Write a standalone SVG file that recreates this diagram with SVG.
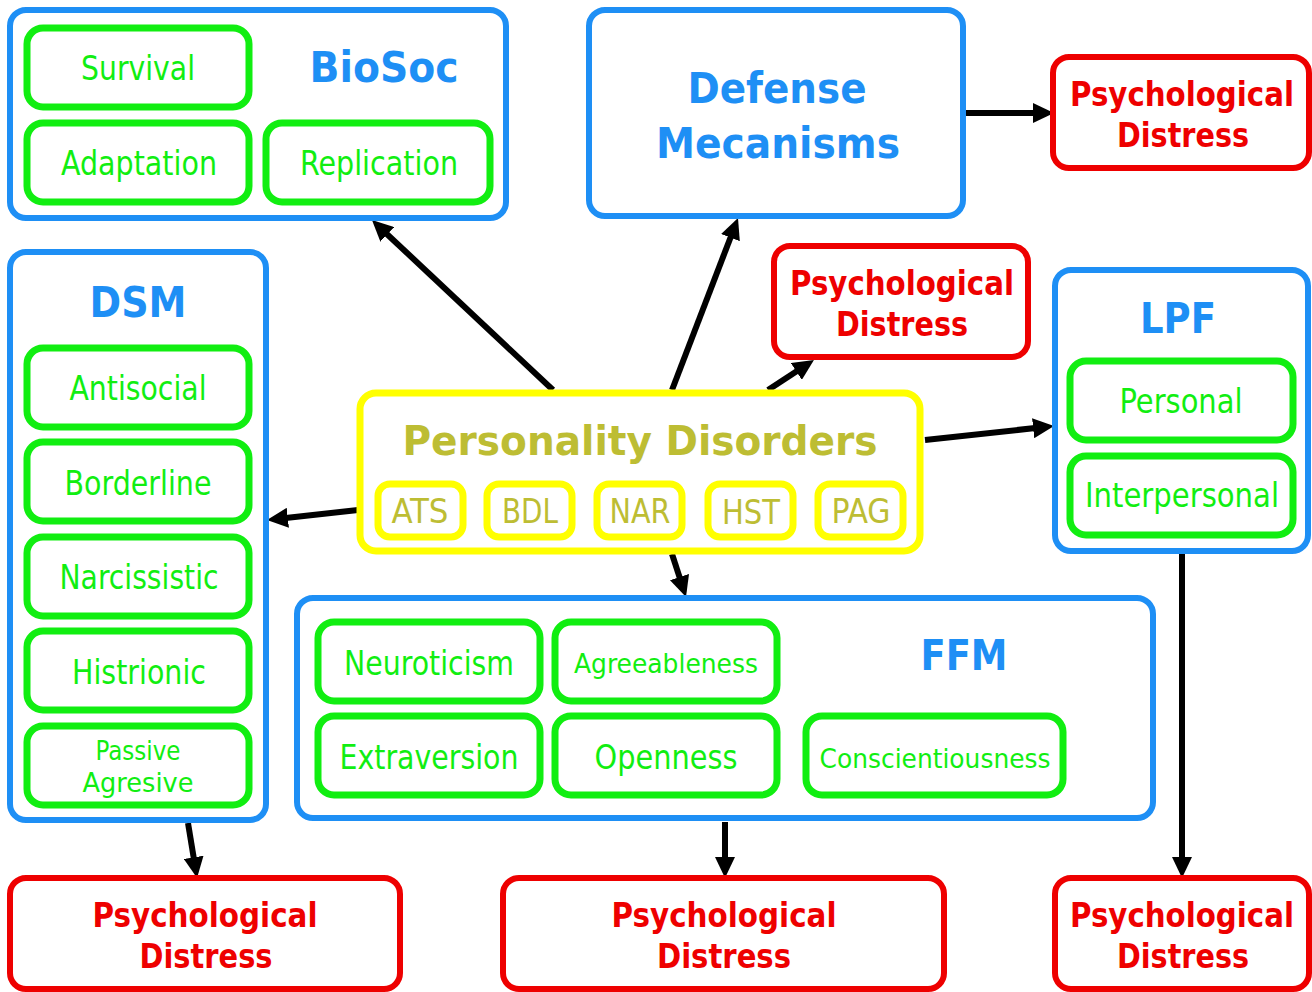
<svg xmlns="http://www.w3.org/2000/svg" width="1312" height="992" viewBox="0 0 1312 992">
<style>
text{font-family:"DejaVu Sans Condensed","DejaVu Sans",Tahoma,sans-serif;text-anchor:middle}
.blue{fill:#fff;stroke:#1E8FF5;stroke-width:6}
.green{fill:#fff;stroke:#11EE11;stroke-width:7}
.red{fill:#fff;stroke:#EE0000;stroke-width:6}
.yellow{fill:#fff;stroke:#FFFF00;stroke-width:7}
.bt{fill:#1E8FF5;font-weight:bold;font-size:42px}
.gt{fill:#11EE11;font-size:33px}
.gs{fill:#11EE11;font-size:27px}
.rt{fill:#EE0000;font-weight:bold;font-size:33px}
.yt{fill:#BDBD33;font-size:33px}
.yb{fill:#BDBD33;font-weight:bold;font-size:41px}
.arr{stroke:#000;stroke-width:6;fill:none;marker-end:url(#ah)}
</style>
<defs>
<marker id="ah" markerUnits="userSpaceOnUse" markerWidth="21" markerHeight="20" refX="9" refY="10" orient="auto">
<path d="M0,0 L21,10 L0,20 Z" fill="#000"/>
</marker>
</defs>
<rect width="1312" height="992" fill="#fff"/>

<g id="connectors">
<line class="arr" x1="553" y1="390" x2="380.7" y2="228.2"/>
<line class="arr" x1="672" y1="390" x2="733.7" y2="229.2"/>
<line class="arr" x1="768" y1="390" x2="803.9" y2="366.6"/>
<line class="arr" x1="925" y1="440" x2="1042.1" y2="427.3"/>
<line class="arr" x1="358" y1="510" x2="278.9" y2="518.7"/>
<line class="arr" x1="672" y1="554" x2="682.3" y2="585.6"/>
<line class="arr" x1="965" y1="113" x2="1042" y2="113"/>
<line class="arr" x1="188" y1="823" x2="195.1" y2="866.2"/>
<line class="arr" x1="725" y1="822" x2="725" y2="866"/>
<line class="arr" x1="1182" y1="554" x2="1182" y2="866"/>
</g>

<g id="biosoc">
<rect class="blue" x="10" y="10" width="496" height="208" rx="16"/>
<text class="bt" x="384" y="82" textLength="149" lengthAdjust="spacingAndGlyphs">BioSoc</text>
<rect class="green" x="27" y="28" width="222" height="79" rx="16"/>
<text class="gt" x="138" y="80" textLength="114" lengthAdjust="spacingAndGlyphs">Survival</text>
<rect class="green" x="27" y="123" width="222" height="79" rx="16"/>
<text class="gt" x="139" y="175" textLength="156" lengthAdjust="spacingAndGlyphs">Adaptation</text>
<rect class="green" x="266" y="123" width="224" height="79" rx="16"/>
<text class="gt" x="379" y="175" textLength="158" lengthAdjust="spacingAndGlyphs">Replication</text>
</g>

<g id="defense">
<rect class="blue" x="589" y="10" width="374" height="206" rx="16"/>
<text class="bt" x="777" y="103" textLength="179" lengthAdjust="spacingAndGlyphs">Defense</text>
<text class="bt" x="778" y="158" textLength="244" lengthAdjust="spacingAndGlyphs">Mecanisms</text>
</g>

<g id="distress-top">
<rect class="red" x="1053" y="57" width="256" height="111" rx="16"/>
<text class="rt" x="1182" y="106" textLength="224" lengthAdjust="spacingAndGlyphs">Psychological</text>
<text class="rt" x="1183" y="147" textLength="132" lengthAdjust="spacingAndGlyphs">Distress</text>
</g>

<g id="distress-mid">
<rect class="red" x="774" y="246" width="254" height="111" rx="16"/>
<text class="rt" x="902" y="295" textLength="224" lengthAdjust="spacingAndGlyphs">Psychological</text>
<text class="rt" x="902" y="336" textLength="132" lengthAdjust="spacingAndGlyphs">Distress</text>
</g>

<g id="dsm">
<rect class="blue" x="10" y="252" width="256" height="568" rx="16"/>
<text class="bt" x="138" y="317" textLength="97" lengthAdjust="spacingAndGlyphs">DSM</text>
<rect class="green" x="27" y="348" width="222" height="79" rx="16"/>
<text class="gt" x="138" y="400" textLength="137" lengthAdjust="spacingAndGlyphs">Antisocial</text>
<rect class="green" x="27" y="442" width="222" height="79" rx="16"/>
<text class="gt" x="138" y="495" textLength="147" lengthAdjust="spacingAndGlyphs">Borderline</text>
<rect class="green" x="27" y="537" width="222" height="79" rx="16"/>
<text class="gt" x="139" y="589" textLength="159" lengthAdjust="spacingAndGlyphs">Narcissistic</text>
<rect class="green" x="27" y="631" width="222" height="79" rx="16"/>
<text class="gt" x="139" y="684" textLength="134" lengthAdjust="spacingAndGlyphs">Histrionic</text>
<rect class="green" x="27" y="726" width="222" height="79" rx="16"/>
<text class="gs" x="138" y="760" textLength="85" lengthAdjust="spacingAndGlyphs">Passive</text>
<text class="gs" x="138" y="792" textLength="111" lengthAdjust="spacingAndGlyphs">Agresive</text>
</g>

<g id="lpf">
<rect class="blue" x="1055" y="270" width="253" height="281" rx="16"/>
<text class="bt" x="1178" y="333" textLength="76" lengthAdjust="spacingAndGlyphs">LPF</text>
<rect class="green" x="1070" y="361" width="223" height="79" rx="16"/>
<text class="gt" x="1181" y="413" textLength="123" lengthAdjust="spacingAndGlyphs">Personal</text>
<rect class="green" x="1070" y="456" width="223" height="79" rx="16"/>
<text class="gt" x="1182" y="507" textLength="194" lengthAdjust="spacingAndGlyphs">Interpersonal</text>
</g>

<g id="personality-disorders">
<rect class="yellow" x="360" y="393" width="560" height="158" rx="16"/>
<text class="yb" x="640" y="455" textLength="475" lengthAdjust="spacingAndGlyphs">Personality Disorders</text>
<rect class="yellow" x="378" y="484" width="85" height="53" rx="12"/>
<text class="yt" x="420" y="523" textLength="57" lengthAdjust="spacingAndGlyphs">ATS</text>
<rect class="yellow" x="487" y="484" width="85" height="53" rx="12"/>
<text class="yt" x="530" y="523" textLength="56" lengthAdjust="spacingAndGlyphs">BDL</text>
<rect class="yellow" x="597" y="484" width="85" height="53" rx="12"/>
<text class="yt" x="640" y="523" textLength="61" lengthAdjust="spacingAndGlyphs">NAR</text>
<rect class="yellow" x="708" y="484" width="85" height="53" rx="12"/>
<text class="yt" x="751" y="524" textLength="58" lengthAdjust="spacingAndGlyphs">HST</text>
<rect class="yellow" x="818" y="484" width="85" height="53" rx="12"/>
<text class="yt" x="861" y="523" textLength="59" lengthAdjust="spacingAndGlyphs">PAG</text>
</g>

<g id="ffm">
<rect class="blue" x="297" y="598" width="856" height="220" rx="16"/>
<text class="bt" x="964" y="670" textLength="87" lengthAdjust="spacingAndGlyphs">FFM</text>
<rect class="green" x="318" y="622" width="222" height="79" rx="16"/>
<text class="gt" x="429" y="675" textLength="170" lengthAdjust="spacingAndGlyphs">Neuroticism</text>
<rect class="green" x="555" y="622" width="222" height="79" rx="16"/>
<text class="gs" x="666" y="673" textLength="184" lengthAdjust="spacingAndGlyphs">Agreeableness</text>
<rect class="green" x="318" y="716" width="222" height="79" rx="16"/>
<text class="gt" x="429" y="769" textLength="179" lengthAdjust="spacingAndGlyphs">Extraversion</text>
<rect class="green" x="555" y="716" width="222" height="79" rx="16"/>
<text class="gt" x="666" y="769" textLength="143" lengthAdjust="spacingAndGlyphs">Openness</text>
<rect class="green" x="806" y="716" width="257" height="79" rx="16"/>
<text class="gs" x="935" y="768" textLength="231" lengthAdjust="spacingAndGlyphs">Conscientiousness</text>
</g>

<g id="distress-bottom-left">
<rect class="red" x="10" y="878" width="390" height="111" rx="16"/>
<text class="rt" x="205" y="927" textLength="225" lengthAdjust="spacingAndGlyphs">Psychological</text>
<text class="rt" x="206" y="968" textLength="133" lengthAdjust="spacingAndGlyphs">Distress</text>
</g>

<g id="distress-bottom-mid">
<rect class="red" x="503" y="878" width="441" height="111" rx="16"/>
<text class="rt" x="724" y="927" textLength="225" lengthAdjust="spacingAndGlyphs">Psychological</text>
<text class="rt" x="724" y="968" textLength="134" lengthAdjust="spacingAndGlyphs">Distress</text>
</g>

<g id="distress-bottom-right">
<rect class="red" x="1055" y="878" width="254" height="111" rx="16"/>
<text class="rt" x="1182" y="927" textLength="224" lengthAdjust="spacingAndGlyphs">Psychological</text>
<text class="rt" x="1183" y="968" textLength="132" lengthAdjust="spacingAndGlyphs">Distress</text>
</g>
</svg>
